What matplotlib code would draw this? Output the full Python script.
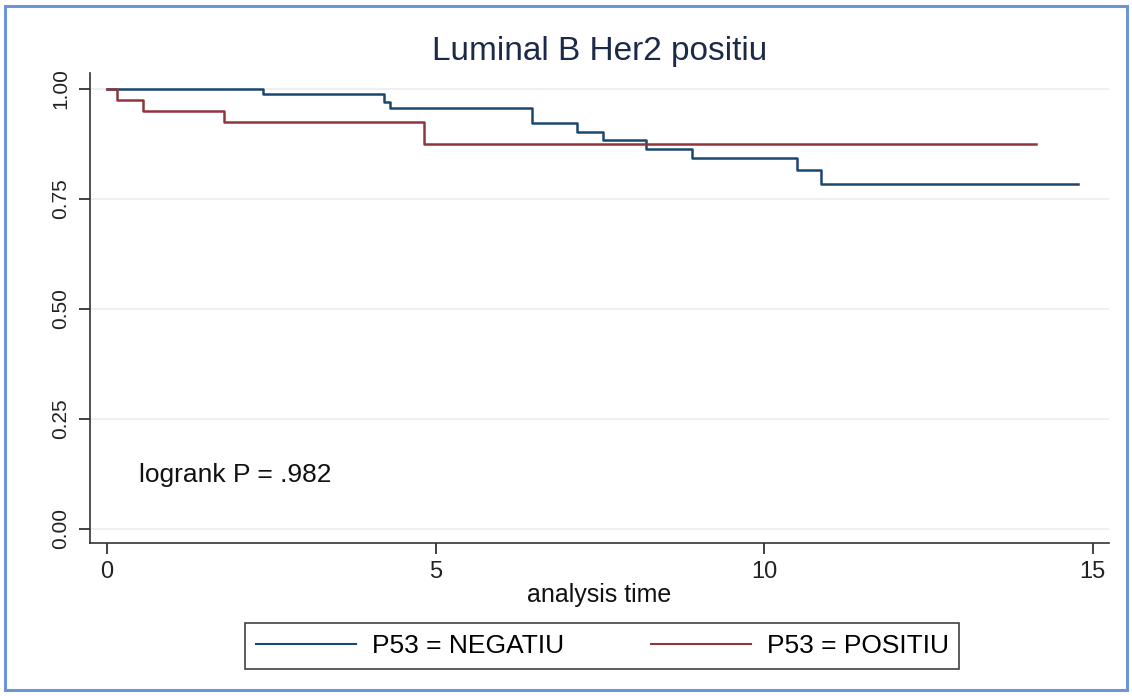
import numpy as np
import matplotlib as mpl
from matplotlib import pyplot as plt
from matplotlib.patches import Rectangle

mpl.rcParams['font.family'] = ['Liberation Sans', 'DejaVu Sans']

# Kaplan-Meier step estimates (time in years, survival fraction)
neg_time = [0, 2.37, 4.21, 4.31, 6.47, 7.16, 7.55, 8.21, 8.90, 10.50, 10.86, 14.78]
neg_surv = [1.0, 0.988, 0.971, 0.956, 0.922, 0.903, 0.883, 0.864, 0.842, 0.816, 0.783, 0.783]
pos_time = [0, 0.15, 0.54, 1.78, 4.83, 14.14]
pos_surv = [1.0, 0.975, 0.95, 0.925, 0.875, 0.875]

labels = ['P53 = NEGATIU', 'P53 = POSITIU']
colors = ['#1a476f', '#90353b']
yticks = [0.0, 0.25, 0.50, 0.75, 1.00]
xticks = [0, 5, 10, 15]

fig = plt.figure(figsize=(11.32, 6.96), dpi=100)
ax = fig.add_axes([0.0795, 0.2198, 0.9002, 0.6752])

for y in yticks:
    ax.axhline(y, color='#ececec', lw=1.2, zorder=0)

ax.step(neg_time, neg_surv, where='post', color=colors[0], lw=1.8, label=labels[0])
ax.step(pos_time, pos_surv, where='post', color=colors[1], lw=1.8, label=labels[1])

ax.set_xlim(-0.26, 15.25)
ax.set_ylim(-0.032, 1.036)
ax.set_xticks(xticks)
ax.set_yticks(yticks)
ax.set_yticklabels([f'{v:.2f}' for v in yticks], rotation=90, va='center')
ax.tick_params(axis='both', direction='out', length=8, width=1.2, labelsize=15, pad=6,
               colors='#222222')
ax.tick_params(axis='x', labelsize=17, pad=5)
for side in ['top', 'right']:
    ax.spines[side].set_visible(False)
for side in ['left', 'bottom']:
    ax.spines[side].set_linewidth(1.2)
    ax.spines[side].set_color('#333333')

ax.set_xlabel('analysis time', fontsize=18, labelpad=0, color='#111111')
fig.text(0.530, 0.926, 'Luminal B Her2 positiu', fontsize=24, color='#1c2a4a',
         ha='center', va='center')
ax.text(0.49, 0.123, 'logrank P = .982', fontsize=19, va='center', color='#111111')

leg = fig.legend(loc='center', bbox_to_anchor=(0.532, 0.0718), ncol=2, fontsize=19,
                 frameon=True, fancybox=False, edgecolor='#111111', handlelength=3.8,
                 columnspacing=3.3, handletextpad=0.6, borderpad=0.4, borderaxespad=0)
leg.get_frame().set_linewidth(1.2)
for line in leg.get_lines():
    line.set_linewidth(1.5)

# light blue frame round the whole figure
fig.patches.append(Rectangle((5 / 1132, 6 / 696), 1122 / 1132, 684 / 696,
                             transform=fig.transFigure, fill=False,
                             edgecolor='#6a96d6', lw=2.2))

fig.savefig('out.png', dpi=100)
